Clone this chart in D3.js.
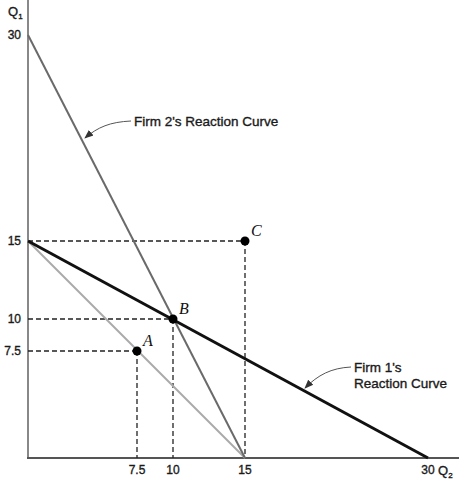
<!DOCTYPE html>
<html><head><meta charset="utf-8">
<script src="https://cdn.jsdelivr.net/npm/d3@7"></script>
<style>body{margin:0;background:#fff}svg{display:block}</style>
</head><body>
<script>
// Data (Q2 on x, Q1 on y)
const xTicks = [7.5, 10, 15, 30];
const yTicks = [7.5, 10, 15, 30];
const firm2Curve = [[0, 30], [15, 0]];
const firm1Curve = [[0, 15], [30, 0]];
const collusionLine = [[0, 15], [15, 0]];
const points = [
  {name: "A", q2: 7.5, q1: 7.5},
  {name: "B", q2: 10, q1: 10},
  {name: "C", q2: 15, q1: 15}
];

const W = 459, H = 483;
const svg = d3.select("body").append("svg").attr("width", W).attr("height", H);

// Schematic (non-uniform) scales as in the original drawing
const x = d3.scaleLinear().domain([0, 7.5, 10, 15, 30]).range([28, 137, 173, 245, 428]);
const y = d3.scaleLinear().domain([0, 7.5, 10, 15, 30]).range([458, 351, 319, 241, 35]);

const font = "Liberation Sans, Arial, sans-serif";

svg.append("defs").append("marker")
  .attr("id", "arr").attr("viewBox", "0 0 10 10").attr("refX", 9).attr("refY", 5)
  .attr("markerWidth", 9).attr("markerHeight", 9).attr("orient", "auto-start-reverse")
  .attr("markerUnits", "userSpaceOnUse")
  .append("path").attr("d", "M0,1 L10,5 L0,9 Z").attr("fill", "#333");

// Axes
svg.append("line").attr("x1", x(0)).attr("x2", x(0)).attr("y1", 0).attr("y2", y(0))
  .attr("stroke", "#888").attr("stroke-width", 2);
svg.append("line").attr("x1", x(0) - 1).attr("x2", W).attr("y1", y(0)).attr("y2", y(0))
  .attr("stroke", "#555").attr("stroke-width", 2);

// Dashed guides
const dash = svg.append("g").attr("stroke", "#222").attr("stroke-width", 1.3)
  .attr("stroke-dasharray", "5,3").attr("fill", "none");
points.forEach(p => {
  dash.append("line").attr("x1", x(0)).attr("x2", x(p.q2)).attr("y1", y(p.q1)).attr("y2", y(p.q1));
  dash.append("line").attr("x1", x(p.q2)).attr("x2", x(p.q2)).attr("y1", y(p.q1)).attr("y2", y(0));
});

const line = d3.line().x(d => x(d[0])).y(d => y(d[1]));
svg.append("path").datum(collusionLine).attr("d", line).attr("stroke", "#aaa").attr("stroke-width", 2).attr("fill", "none");
svg.append("path").datum(firm2Curve).attr("d", line).attr("stroke", "#6a6a6a").attr("stroke-width", 2).attr("fill", "none");
svg.append("path").datum(firm1Curve).attr("d", line).attr("stroke", "#111").attr("stroke-width", 3).attr("fill", "none");

// Points
svg.selectAll("circle.pt").data(points).join("circle")
  .attr("cx", d => x(d.q2)).attr("cy", d => y(d.q1)).attr("r", 4.5).attr("fill", "#000");
svg.selectAll("text.pt").data(points).join("text")
  .attr("x", d => x(d.q2) + 6).attr("y", d => y(d.q1) - 5)
  .attr("font-family", "Liberation Serif, Times New Roman, serif").attr("font-style", "italic")
  .attr("font-size", 16).attr("fill", "#111").text(d => d.name);

const txt = sel => sel.attr("font-family", font).attr("fill", "#1a1a1a")
  .attr("stroke", "#1a1a1a").attr("stroke-width", 0.35);

// Tick labels
svg.selectAll("text.xt").data(xTicks).join("text")
  .attr("x", d => x(d)).attr("y", 474).attr("text-anchor", "middle")
  .attr("font-size", 12).call(txt)
  .text(d => d);
svg.selectAll("text.yt").data(yTicks).join("text")
  .attr("x", 21).attr("y", d => y(d) + 4).attr("text-anchor", "end")
  .attr("font-size", 12).call(txt)
  .text(d => d);

// Axis titles
const q1 = svg.append("text").attr("x", 8).attr("y", 16).attr("font-size", 13).call(txt);
q1.append("tspan").text("Q");
q1.append("tspan").attr("font-size", 8).attr("dy", 3).text("1");
const q2 = svg.append("text").attr("x", 438).attr("y", 475).attr("font-size", 13).call(txt);
q2.append("tspan").text("Q");
q2.append("tspan").attr("font-size", 8).attr("dy", 3).text("2");

// Annotations
svg.append("text").attr("x", 134).attr("y", 126).attr("font-size", 13.5).call(txt)
  .text("Firm 2's Reaction Curve");
svg.append("path").attr("d", "M131,121 C110,122 98,127 85,138")
  .attr("fill", "none").attr("stroke", "#555").attr("stroke-width", 1).attr("marker-end", "url(#arr)");

const t1 = svg.append("text").attr("font-size", 13.5).call(txt);
t1.append("tspan").attr("x", 354).attr("y", 372).text("Firm 1's");
t1.append("tspan").attr("x", 354).attr("y", 388).text("Reaction Curve");
svg.append("path").attr("d", "M351,367 C331,368 318,375 305,388")
  .attr("fill", "none").attr("stroke", "#555").attr("stroke-width", 1).attr("marker-end", "url(#arr)");
</script>
</body></html>
